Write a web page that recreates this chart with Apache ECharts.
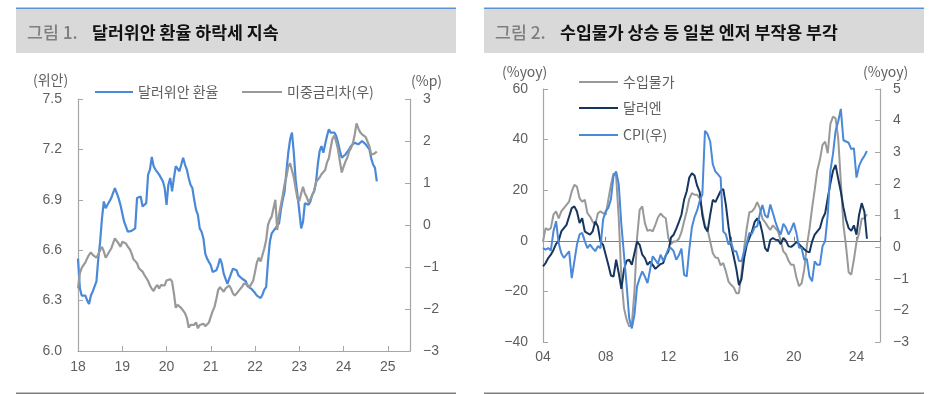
<!DOCTYPE html>
<html><head><meta charset="utf-8">
<script src="https://cdn.jsdelivr.net/npm/echarts@6/dist/echarts.min.js"></script>
<style>html,body{margin:0;padding:0;background:#fff}#c{width:931px;height:394px}</style>
</head><body><div id="c"></div><script>
// ---- Chart 1: semi-monthly samples from Jan 2018 ----
const c1Start = 18;          // year (2018)
const c1PerYear = 24;        // samples per year
const usdcny = [
 6.55,6.375,6.33,6.32,6.33,6.30,6.28,6.33,6.355,6.385,
 6.415,6.55,6.65,6.79,6.89,6.85,6.87,6.89,6.91,6.94,
 6.97,6.94,6.91,6.87,6.82,6.77,6.74,6.71,6.72,6.715,
 6.71,6.73,6.91,6.92,6.92,6.86,6.87,6.88,7.05,7.08,
 7.155,7.10,7.08,7.08,7.05,7.05,7.01,6.97,6.87,6.99,
 7.03,6.95,7.03,7.10,7.09,7.07,7.11,7.15,7.11,7.08,
 7.03,6.99,6.97,6.90,6.84,6.81,6.73,6.71,6.67,6.58,
 6.55,6.53,6.51,6.47,6.46,6.48,6.51,6.55,6.52,6.46,
 6.43,6.40,6.39,6.46,6.49,6.48,6.48,6.45,6.45,6.43,
 6.42,6.415,6.385,6.375,6.37,6.37,6.345,6.33,6.325,6.315,
 6.335,6.365,6.38,6.53,6.65,6.70,6.695,6.73,6.72,6.76,
 6.84,6.90,6.95,7.07,7.18,7.26,7.30,7.18,7.02,6.93,
 6.83,6.73,6.77,6.88,6.87,6.87,6.89,6.93,6.95,7.00,
 7.11,7.19,7.22,7.18,7.23,7.28,7.32,7.30,7.29,7.30,
 7.28,7.24,7.19,7.15,7.15,7.17,7.18,7.20,7.22,7.22,
 7.24,7.24,7.23,7.24,7.25,7.24,7.23,7.22,7.20,7.145,
 7.11,7.09,7.01];
const spread = [
 -1.51,-1.15,-1.02,-0.98,-0.89,-0.79,-0.71,-0.65,-0.71,-0.69,
 -0.78,-0.70,-0.60,-0.52,-0.63,-0.78,-0.71,-0.63,-0.56,-0.44,
 -0.32,-0.34,-0.44,-0.52,-0.40,-0.40,-0.44,-0.52,-0.57,-0.67,
 -0.81,-0.86,-0.91,-1.03,-1.07,-1.11,-1.19,-1.16,-1.33,-1.44,
 -1.52,-1.57,-1.48,-1.43,-1.51,-1.43,-1.40,-1.44,-1.32,-1.33,
 -1.29,-1.35,-1.63,-1.97,-1.90,-1.87,-1.98,-1.98,-2.10,-2.21,
 -2.44,-2.38,-2.35,-2.38,-2.32,-2.46,-2.38,-2.41,-2.35,-2.41,
 -2.44,-2.32,-2.18,-2.05,-1.95,-1.76,-1.55,-1.48,-1.52,-1.59,
 -1.51,-1.47,-1.44,-1.52,-1.63,-1.68,-1.63,-1.59,-1.52,-1.47,
 -1.39,-1.35,-1.43,-1.48,-1.49,-1.32,-1.11,-0.89,-0.78,-0.87,
 -0.91,-0.56,-0.36,0.00,0.12,0.20,0.40,0.60,-0.12,0.24,
 0.48,0.71,0.97,1.15,1.39,1.47,1.47,1.13,0.87,0.63,
 0.57,0.75,0.91,0.75,0.67,0.54,0.62,0.71,0.81,1.02,
 1.02,1.13,1.21,1.25,1.31,1.49,1.59,1.84,2.06,2.13,
 1.98,1.79,1.51,1.25,1.39,1.51,1.60,1.75,1.83,1.94,
 2.14,2.42,2.30,2.21,2.16,2.17,2.09,2.05,1.87,1.67,
 1.65,1.71,1.75];
const c1XTicks = [18,19,20,21,22,23,24,25];
const c1LeftTicks = ['6.0','6.3','6.6','6.9','7.2','7.5'];

// ---- Chart 2: bi-monthly samples from Jan 2004 ----
const c2Start = 2004;
const c2PerYear = 6;
const importPrice = [
 -0.3,5.0,4.3,5.0,10.3,11.6,8.9,11.6,12.9,14.2,
 15.5,19.5,22.1,21.4,16.8,15.5,16.2,10.9,9.6,7.6,
 6.3,10.9,11.6,10.9,10.3,16.2,22.1,26.7,25.4,8.9,
 -14.7,-26.6,-31.2,-33.8,-33.2,-20.0,1.1,12.2,13.6,7.0,
 3.9,4.3,3.7,6.3,9.2,10.8,9.6,8.9,1.1,-1.3,
 -0.3,-0.3,0.8,3.4,7.6,11.6,16.6,18.8,18.2,18.2,
 16.8,11.6,5.9,4.3,-0.3,-4.9,-6.6,-6.8,-9.7,-8.8,
 -12.1,-16.1,-17.4,-18.4,-20.7,-20.7,-12.8,-2.9,5.0,11.3,
 11.6,12.9,15.3,12.9,8.7,7.4,5.7,4.3,6.1,4.9,
 3.7,0.0,-4.2,-5.3,-7.9,-9.5,-9.5,-14.5,-17.9,-16.8,
 -11.4,-2.0,4.7,12.9,20.1,27.9,32.0,37.9,39.2,34.6,
 46.1,49.1,48.4,40.5,23.4,6.3,-2.2,-12.4,-13.4,-7.5,
 -0.5,3.0,8.7,8.9,10.5];
const usdjpy = [
 -10.1,-8.8,-6.8,-5.5,-3.6,-1.2,0,3.7,5.0,6.3,
 9.6,12.9,13.6,11.6,7.0,8.9,3.7,3.0,2.4,3.7,
 7.6,5.7,-0.3,-1.6,-5.5,-9.5,-13.7,-14.1,-7.5,-12.8,
 -19.0,-11.4,-7.9,-7.5,-9.5,-4.9,-0.3,-1.6,-5.5,-6.8,
 -9.5,-8.2,-9.5,-11.1,-10.1,-9.2,-8.8,-5.8,-4.2,1.3,
 2.4,4.7,7.4,10.3,16.2,19.5,25.0,26.7,25.8,21.8,
 19.2,10.0,5.3,3.7,10.3,16.2,15.3,17.5,19.7,20.5,
 14.2,5.7,-1.6,-6.2,-11.1,-17.5,-15.0,-6.8,-1.6,1.1,
 3.7,7.4,8.9,7.4,3.0,-2.9,-4.2,0.3,1.1,0.4,
 0.3,-1.3,1.1,0,-2.2,-2.4,-1.6,-0.4,-1.3,-2.4,
 -3.3,-4.2,-4.6,-0.3,2.4,3.7,5.0,8.7,10.9,16.8,
 22.6,27.6,30.0,24.5,19.5,13.2,8.3,5.0,3.9,6.1,
 2.4,10.3,14.9,11.6,0.8];
const cpi = [
 -0.03,-0.08,-0.03,-0.11,0.50,0.82,0.13,-0.19,-0.34,-0.24,
 -0.13,-0.98,-0.45,0.08,0.40,0.45,0.19,-0.03,0.08,-0.03,
 -0.13,0.03,-0.03,0.87,1.14,1.24,1.51,2.25,2.39,1.98,
 0.71,-0.24,-1.19,-2.25,-2.57,-2.14,-1.24,-0.98,-0.77,-0.93,
 -1.14,-0.71,-0.29,-0.40,-0.53,-0.24,-0.43,-0.26,-0.05,-0.03,
 -0.13,-0.40,-0.26,-0.05,-0.87,-0.93,-0.08,0.63,0.95,1.16,
 1.46,1.67,3.68,3.57,3.34,2.62,2.39,2.30,2.20,0.50,
 0.40,0.08,0.16,-0.13,-0.13,-0.43,-0.45,-0.13,0.13,0.45,
 0.42,0.63,0.66,1.05,1.33,1.01,0.93,1.35,1.08,0.79,
 0.56,0.40,0.74,0.61,0.40,0.56,0.77,0.45,-0.01,-0.03,
 -0.40,-0.37,-0.93,-1.08,-0.45,-0.56,-0.56,0.03,0.19,1.03,
 2.41,2.94,3.68,3.97,4.37,3.38,3.34,3.30,3.10,3.13,
 2.20,2.57,2.75,2.88,3.04];
const c2XTicks = ['04','08','12','16','20','24'];

const titles = {
  left:  ['그림 1.', '달러위안 환율 하락세 지속'],
  right: ['그림 2.', '수입물가 상승 등 일본 엔저 부작용 부각']
};
const names1 = ['달러위안 환율', '미중금리차(우)'];
const names2 = ['수입물가', '달러엔', 'CPI(우)'];

// ---- build ----
const pair = (arr, start, per) => arr.map((v, i) => [start + i / per, v]);
const minus = v => (v < 0 ? '\u2212' + Math.abs(v) : String(v));
const NUM = 'Liberation Sans, Arial, sans-serif';
const KR = 'Noto Sans CJK KR, sans-serif';
const TXT = '#5f5f5f';
const AX = '#a6a6a6';
const BLUE = '#4a88d8', GRAY = '#999999', NAVY = '#17365d';

const chart = echarts.init(document.getElementById('c'), null, {renderer: 'canvas'});
const axLab = (extra) => Object.assign({color: TXT, fontSize: 14, fontFamily: NUM}, extra);

// legend drawn as line + text
function legendItem(x1, x2, y, color, label) {
  return [
    {type: 'line', shape: {x1: x1, y1: y, x2: x2, y2: y}, style: {stroke: color, lineWidth: 2.2}, silent: true},
    {type: 'text', x: x2 + 5, y: y, style: {text: label, fill: TXT, font: '14px ' + KR, verticalAlign: 'middle'}, silent: true}
  ];
}
const legendGraphics = [].concat(
  legendItem(95, 133, 92, BLUE, names1[0]),
  legendItem(242, 282, 92, GRAY, names1[1]),
  legendItem(579, 618, 82, GRAY, names2[0]),
  legendItem(579, 618, 108, NAVY, names2[1]),
  legendItem(579, 618, 135, BLUE, names2[2])
);

chart.setOption({
  animation: false,
  grid: [
    {left: 78, right: 521, top: 99, bottom: 43},
    {left: 543, right: 51, top: 89, bottom: 52}
  ],
  xAxis: [
    {gridIndex: 0, type: 'value', min: 18, max: 25.5, interval: 1,
     axisLine: {onZero: false, lineStyle: {color: AX, width: 1.2}},
     axisTick: {inside: true, length: 5, lineStyle: {color: AX}},
     axisLabel: axLab({margin: 9, formatter: v => c1XTicks.includes(v) ? String(v) : ''}),
     splitLine: {show: false}},
    {gridIndex: 1, type: 'value', min: 2004, max: 2025.5, interval: 4,
     axisLine: {show: false, onZero: false}, axisTick: {show: false},
     axisLabel: axLab({margin: 8, formatter: v => { const s = String(v).slice(2); return c2XTicks.includes(s) ? s : ''; }}),
     splitLine: {show: false}},
    {gridIndex: 1, type: 'value', min: 2004, max: 2025.5, interval: 4,
     axisLine: {show: true, onZero: true, onZeroAxisIndex: 2, lineStyle: {color: '#808080', width: 1}},
     axisTick: {show: true, inside: false, length: 4, lineStyle: {color: '#808080'}},
     axisLabel: {show: false}, splitLine: {show: false}}
  ],
  yAxis: [
    {gridIndex: 0, type: 'value', min: 6.0, max: 7.5, interval: 0.3, position: 'left',
     axisLine: {show: true, lineStyle: {color: AX, width: 1.2}},
     axisTick: {show: true, inside: true, length: 5, lineStyle: {color: AX}},
     axisLabel: axLab({margin: 16, formatter: v => { const s = v.toFixed(1); return c1LeftTicks.includes(s) ? s : ''; }}),
     splitLine: {show: false}},
    {gridIndex: 0, type: 'value', min: -3, max: 3, interval: 1, position: 'right',
     axisLine: {show: true, lineStyle: {color: AX, width: 1.2}},
     axisTick: {show: true, inside: true, length: 5, lineStyle: {color: AX}},
     axisLabel: axLab({margin: 13, formatter: minus}),
     splitLine: {show: false}},
    {gridIndex: 1, type: 'value', min: -40, max: 60, interval: 20, position: 'left',
     axisLine: {show: true, onZero: false, lineStyle: {color: AX, width: 1.2}},
     axisTick: {show: true, inside: true, length: 5, lineStyle: {color: AX}},
     axisLabel: axLab({margin: 15, formatter: minus}),
     splitLine: {show: false}},
    {gridIndex: 1, type: 'value', min: -3, max: 5, interval: 1, position: 'right',
     axisLine: {show: true, onZero: false, lineStyle: {color: AX, width: 1.2}},
     axisTick: {show: true, inside: true, length: 5, lineStyle: {color: AX}},
     axisLabel: axLab({margin: 13, formatter: minus}),
     splitLine: {show: false}}
  ],
  series: [
    {name: names1[0], type: 'line', xAxisIndex: 0, yAxisIndex: 0, symbol: 'none',
     data: pair(usdcny, c1Start, c1PerYear), lineStyle: {color: BLUE, width: 2.2}, itemStyle: {color: BLUE}},
    {name: names1[1], type: 'line', xAxisIndex: 0, yAxisIndex: 1, symbol: 'none',
     data: pair(spread, c1Start, c1PerYear), lineStyle: {color: GRAY, width: 2.2}, itemStyle: {color: GRAY}},
    {name: names2[0], type: 'line', xAxisIndex: 1, yAxisIndex: 2, symbol: 'none',
     data: pair(importPrice, c2Start, c2PerYear), lineStyle: {color: GRAY, width: 2}, itemStyle: {color: GRAY}},
    {name: names2[1], type: 'line', xAxisIndex: 1, yAxisIndex: 2, symbol: 'none',
     data: pair(usdjpy, c2Start, c2PerYear), lineStyle: {color: NAVY, width: 2}, itemStyle: {color: NAVY}},
    {name: names2[2], type: 'line', xAxisIndex: 1, yAxisIndex: 3, symbol: 'none',
     data: pair(cpi, c2Start, c2PerYear), lineStyle: {color: BLUE, width: 2}, itemStyle: {color: BLUE}}
  ],
  graphic: [
    {type: 'rect', shape: {x: 16, y: 9, width: 440, height: 44}, style: {fill: '#d9d9d9'}, silent: true},
    {type: 'rect', shape: {x: 16, y: 7.5, width: 440, height: 1.5}, style: {fill: '#5b93d6'}, silent: true},
    {type: 'rect', shape: {x: 484, y: 9, width: 440, height: 44}, style: {fill: '#d9d9d9'}, silent: true},
    {type: 'rect', shape: {x: 484, y: 7.5, width: 440, height: 1.5}, style: {fill: '#5b93d6'}, silent: true},
    {type: 'text', x: 27, y: 32, style: {text: titles.left[0], fill: '#7f7f7f', font: '500 17.3px ' + KR, verticalAlign: 'middle'}},
    {type: 'text', x: 92, y: 32, style: {text: titles.left[1], fill: '#111', font: 'bold 17.3px ' + KR, verticalAlign: 'middle'}},
    {type: 'text', x: 495, y: 32, style: {text: titles.right[0], fill: '#7f7f7f', font: '500 17.3px ' + KR, verticalAlign: 'middle'}},
    {type: 'text', x: 560, y: 32, style: {text: titles.right[1], fill: '#111', font: 'bold 17.3px ' + KR, verticalAlign: 'middle'}},
    {type: 'text', x: 33, y: 80, style: {text: '(위안)', fill: TXT, font: '14px ' + KR, verticalAlign: 'middle'}},
    {type: 'text', x: 411, y: 81, style: {text: '(%p)', fill: TXT, font: '14px ' + KR, verticalAlign: 'middle'}},
    {type: 'text', x: 502, y: 72, style: {text: '(%yoy)', fill: TXT, font: '14px ' + KR, verticalAlign: 'middle'}},
    {type: 'text', x: 863, y: 72, style: {text: '(%yoy)', fill: TXT, font: '14px ' + KR, verticalAlign: 'middle'}},
    {type: 'rect', shape: {x: 16, y: 392.5, width: 440, height: 1.5}, style: {fill: '#808080'}, silent: true},
    {type: 'rect', shape: {x: 484, y: 392.5, width: 440, height: 1.5}, style: {fill: '#808080'}, silent: true}
  ].concat(legendGraphics)
});
</script></body></html>
